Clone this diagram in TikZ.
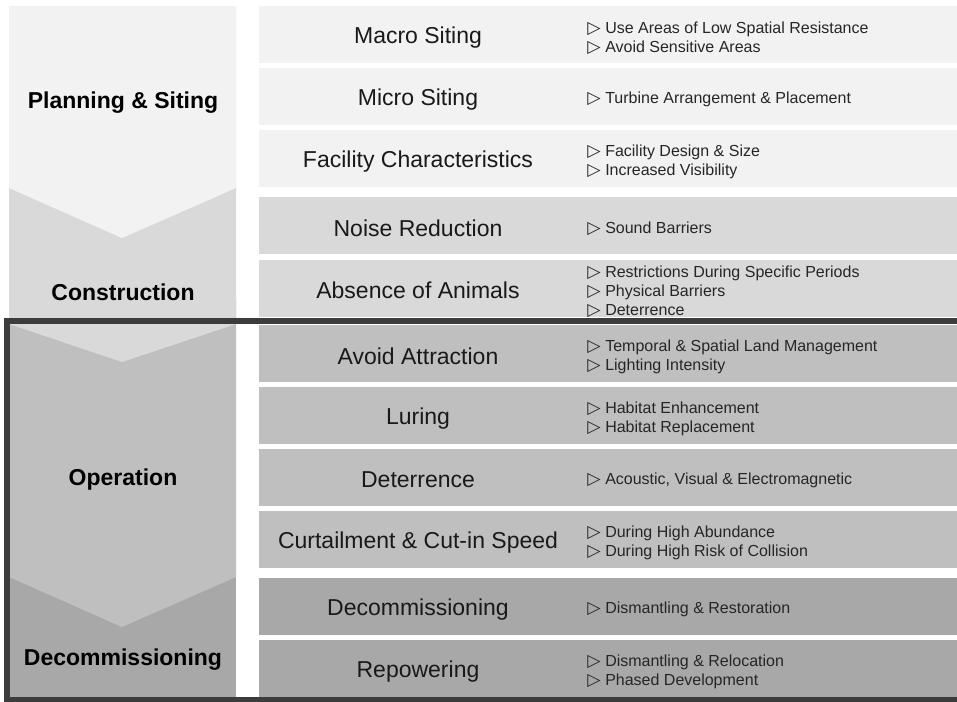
\documentclass[tikz,border=0pt]{standalone}
\usepackage{fontspec}
\setmainfont{Liberation Sans}
\newfontfamily\symfont{DejaVu Sans}
\newcommand{\tri}{{\symfont\fontsize{13}{14.25}\selectfont ▷}\hspace{3.5pt}}
\definecolor{plan}{HTML}{F2F2F2}
\definecolor{constr}{HTML}{D9D9D9}
\definecolor{oper}{HTML}{BFBFBF}
\definecolor{decom}{HTML}{A8A8A8}
\definecolor{frame}{HTML}{3C3C3C}

\begin{document}
\begin{tikzpicture}[x=0.75pt,y=-0.75pt,
  rowbox/.style={minimum width=523.5pt, minimum height=42.75pt, inner sep=0pt, outer sep=0pt},
  item/.style={font=\fontsize{17.25}{20}\selectfont, text=black!90, inner sep=0pt, yshift=-2pt},
  bullets/.style={font=\fontsize{12}{14.25}\selectfont, text=black!85, align=left, anchor=west, inner sep=0pt, yshift=-2.5pt},
  phase/.style={font=\bfseries\fontsize{17.25}{20}\selectfont, inner sep=0pt, yshift=-2pt}]
\useasboundingbox (0,0) rectangle (957,701);
\clip (0,0) rectangle (957,701);
\fill [white] (0,0) rectangle (957,701);
% phases on the left
\fill [decom] (9,560) rectangle (236,697);
\fill [oper] (9,300) -- (236,300) -- (236,577) -- (122,627) -- (9,577) -- cycle;
\fill [constr] (9,180) -- (236,180) -- (236,324) -- (122,362) -- (9,324) -- cycle;
\fill [plan] (9,6) -- (236,6) -- (236,188) -- (122,238) -- (9,188) -- cycle;
\node [phase] (planning) at (123,100) {Planning \& Siting};
\node [phase] (construction) at (123,290) {Construction};
\node [phase] (operation) at (123,477) {Operation};
\node [phase] (decommissioning) at (123,657) {Decommissioning};
% planning & siting
\node [rowbox, fill=plan] (macro) at (608,34.5) {};
\node [item] (macrolbl) at (418,34.5) {Macro Siting};
\node [bullets] (macrotxt) at (587,34.5) {\tri Use Areas of Low Spatial Resistance\\ \tri Avoid Sensitive Areas};
\node [rowbox, fill=plan] (micro) at (608,96.5) {};
\node [item] (microlbl) at (418,96.5) {Micro Siting};
\node [bullets] (microtxt) at (587,96.5) {\tri Turbine Arrangement \& Placement};
\node [rowbox, fill=plan] (facility) at (608,158.5) {};
\node [item] (facilitylbl) at (418,158.5) {Facility Characteristics};
\node [bullets] (facilitytxt) at (587,158.5) {\tri Facility Design \& Size\\ \tri Increased Visibility};
% construction
\node [rowbox, fill=constr] (noise) at (608,225.5) {};
\node [item] (noiselbl) at (418,225.5) {Noise Reduction};
\node [bullets] (noisetxt) at (587,225.5) {\tri Sound Barriers};
\node [rowbox, fill=constr] (absence) at (608,288) {};
\node [item] (absencelbl) at (418,288) {Absence of Animals};
\node [bullets] (absencetxt) at (587,288) {\tri Restrictions During Specific Periods\\ \tri Physical Barriers\\ \tri Deterrence};
% operation
\node [rowbox, fill=oper] (attraction) at (608,353.5) {};
\node [item] (attractionlbl) at (418,353.5) {Avoid Attraction};
\node [bullets] (attractiontxt) at (587,353.5) {\tri Temporal \& Spatial Land Management\\ \tri Lighting Intensity};
\node [rowbox, fill=oper] (luring) at (608,415.5) {};
\node [item] (luringlbl) at (418,415.5) {Luring};
\node [bullets] (luringtxt) at (587,415.5) {\tri Habitat Enhancement\\ \tri Habitat Replacement};
\node [rowbox, fill=oper] (deterrence) at (608,477.5) {};
\node [item] (deterrencelbl) at (418,477.5) {Deterrence};
\node [bullets] (deterrencetxt) at (587,477.5) {\tri Acoustic, Visual \& Electromagnetic};
\node [rowbox, fill=oper] (curtail) at (608,539.5) {};
\node [item] (curtaillbl) at (418,539.5) {Curtailment \& Cut-in Speed};
\node [bullets] (curtailtxt) at (587,539.5) {\tri During High Abundance\\ \tri During High Risk of Collision};
% decommissioning
\node [rowbox, fill=decom] (decomrow) at (608,606.5) {};
\node [item] (decomlbl) at (418,606.5) {Decommissioning};
\node [bullets] (decomtxt) at (587,606.5) {\tri Dismantling \& Restoration};
\node [rowbox, fill=decom] (repower) at (608,668.5) {};
\node [item] (repowerlbl) at (418,668.5) {Repowering};
\node [bullets] (repowertxt) at (587,668.5) {\tri Dismantling \& Relocation\\ \tri Phased Development};
% frame round operation and decommissioning
\draw [frame, line width=4.5pt] (6.5,321) rectangle (962,700);
\end{tikzpicture}
\end{document}
